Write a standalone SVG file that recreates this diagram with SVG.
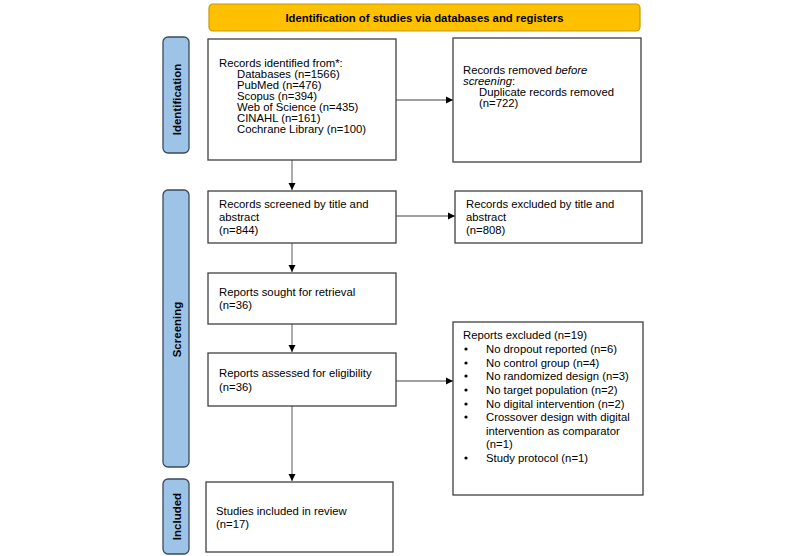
<svg xmlns="http://www.w3.org/2000/svg" width="800" height="556" viewBox="0 0 800 556">
<defs>
<marker id="ah" markerWidth="8" markerHeight="8" refX="7" refY="4" orient="auto" markerUnits="userSpaceOnUse">
<path d="M0,0.5 L7,4 L0,7.5 Z" fill="#000"/>
</marker>
<style>
text{font-family:"Liberation Sans",Arial,sans-serif;font-size:11.3px;fill:#000}
.box{fill:#fff;stroke:#404040;stroke-width:1.3}
.side{fill:#9DC3E6;stroke:#3A4A5E;stroke-width:1.3}
.lab{font-weight:bold;font-size:11.5px;text-anchor:middle}
.con{stroke:#808080;stroke-width:1.3;fill:none;marker-end:url(#ah)}
</style>
</defs>
<rect width="800" height="556" fill="#fff"/>
<g id="banner">
<rect x="209" y="4" width="431" height="27" rx="4" fill="#FFC000" stroke="#C49A00" stroke-width="1.2"/>
<text x="424.5" y="21.5" text-anchor="middle" font-weight="bold">Identification of studies via databases and registers</text>
</g>
<g id="label-identification">
<rect class="side" x="163" y="37" width="26" height="116" rx="5"/>
<text class="lab" transform="translate(180.5,99.5) rotate(-90)">Identification</text>
</g>
<g id="label-screening">
<rect class="side" x="163" y="190" width="26" height="277" rx="5"/>
<text class="lab" transform="translate(180.5,329.5) rotate(-90)">Screening</text>
</g>
<g id="label-included">
<rect class="side" x="163" y="479" width="26" height="75" rx="5"/>
<text class="lab" transform="translate(180.5,516.5) rotate(-90)">Included</text>
</g>
<g id="connectors">
<line class="con" x1="396" y1="100" x2="453" y2="100"/>
<line class="con" x1="292" y1="160" x2="292" y2="190"/>
<line class="con" x1="396" y1="216" x2="455" y2="216"/>
<line class="con" x1="292" y1="243" x2="292" y2="272"/>
<line class="con" x1="292" y1="324" x2="292" y2="352"/>
<line class="con" x1="396" y1="381" x2="453" y2="381"/>
<line class="con" x1="292" y1="406" x2="292" y2="481"/>
</g>
<g id="records-identified">
<rect class="box" x="208" y="39" width="188" height="121"/>
<text x="219" y="67">Records identified from*:</text>
<text x="237" y="78">Databases (n=1566)</text>
<text x="237" y="89">PubMed (n=476)</text>
<text x="237" y="100">Scopus (n=394)</text>
<text x="237" y="111">Web of Science (n=435)</text>
<text x="237" y="122">CINAHL (n=161)</text>
<text x="237" y="133">Cochrane Library (n=100)</text>
</g>
<g id="records-removed">
<rect class="box" x="453" y="38" width="188" height="124"/>
<text x="463" y="74">Records removed <tspan font-style="italic">before</tspan></text>
<text x="463" y="85"><tspan font-style="italic">screening</tspan>:</text>
<text x="479" y="96">Duplicate records removed</text>
<text x="479" y="107">(n=722)</text>
</g>
<g id="records-screened">
<rect class="box" x="208" y="191" width="188" height="52"/>
<text x="219" y="208">Records screened by title and</text>
<text x="219" y="221">abstract</text>
<text x="219" y="234">(n=844)</text>
</g>
<g id="records-excluded">
<rect class="box" x="455" y="191" width="187" height="52"/>
<text x="466" y="208">Records excluded by title and</text>
<text x="466" y="221">abstract</text>
<text x="466" y="234">(n=808)</text>
</g>
<g id="reports-sought">
<rect class="box" x="208" y="273" width="188" height="51"/>
<text x="219" y="296">Reports sought for retrieval</text>
<text x="219" y="309">(n=36)</text>
</g>
<g id="reports-assessed">
<rect class="box" x="208" y="353" width="188" height="53"/>
<text x="219" y="377">Reports assessed for eligibility</text>
<text x="219" y="391">(n=36)</text>
</g>
<g id="reports-excluded">
<rect class="box" x="453" y="322" width="190" height="173"/>
<text x="463" y="339">Reports excluded (n=19)</text>
<g>
<circle cx="466" cy="349" r="1.6"/><text x="486" y="353">No dropout reported (n=6)</text>
<circle cx="466" cy="363" r="1.6"/><text x="486" y="367">No control group (n=4)</text>
<circle cx="466" cy="376" r="1.6"/><text x="486" y="380">No randomized design (n=3)</text>
<circle cx="466" cy="390" r="1.6"/><text x="486" y="394">No target population (n=2)</text>
<circle cx="466" cy="404" r="1.6"/><text x="486" y="408">No digital intervention (n=2)</text>
<circle cx="466" cy="417" r="1.6"/><text x="486" y="421">Crossover design with digital</text>
<text x="486" y="435">intervention as comparator</text>
<text x="486" y="448">(n=1)</text>
<circle cx="466" cy="458" r="1.6"/><text x="486" y="462">Study protocol (n=1)</text>
</g>
</g>
<g id="studies-included">
<rect class="box" x="206" y="482" width="187" height="70"/>
<text x="216" y="515">Studies included in review</text>
<text x="216" y="528">(n=17)</text>
</g>
</svg>
